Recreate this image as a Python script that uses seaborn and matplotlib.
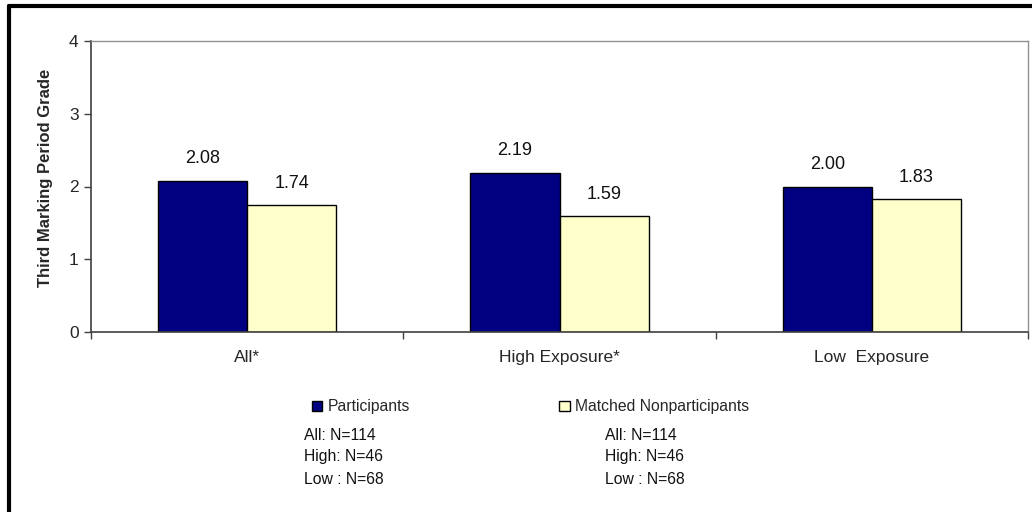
import matplotlib
matplotlib.use("Agg")
import matplotlib.pyplot as plt
from matplotlib.lines import Line2D
from matplotlib.ticker import FixedLocator
import seaborn as sns
import pandas as pd

# Chart data
groups = ["All*", "High Exposure*", "Low  Exposure"]
series = ["Participants", "Matched Nonparticipants"]
participants = [2.08, 2.19, 2.00]
nonparticipants = [1.74, 1.59, 1.83]
n_lines_left = ["All: N=114", "High: N=46", "Low : N=68"]
n_lines_right = ["All: N=114", "High: N=46", "Low : N=68"]
colors = ["#000080", "#FFFFCC"]

df = pd.DataFrame({
    "group": groups * 2,
    "series": [series[0]] * 3 + [series[1]] * 3,
    "grade": participants + nonparticipants,
})

sns.set_theme(style="white")
plt.rcParams["font.family"] = ["Liberation Sans", "DejaVu Sans"]

fig = plt.figure(figsize=(10.32, 5.12), dpi=100)
ax = fig.add_axes([91 / 1032, 1 - 332 / 512, (1028 - 91) / 1032, (332 - 41) / 512])

sns.barplot(data=df, x="group", y="grade", hue="series", hue_order=series,
            order=groups, palette=colors, width=0.57, gap=0,
            edgecolor="black", linewidth=1, saturation=1, ax=ax)

for cont in ax.containers:
    ax.bar_label(cont, fmt="%.2f", padding=9.5, fontsize=13, color="#111111")

ax.set_ylim(0, 4)
ax.set_xlim(-0.5, 2.5)
ax.set_yticks([0, 1, 2, 3, 4])
ax.set_xlabel("")
ax.set_ylabel("Third Marking Period Grade", fontsize=12, fontweight="bold")
ax.yaxis.set_label_coords(-0.0406, 0.53)
ax.tick_params(axis="y", which="major", direction="out", length=5, width=1,
               color="#404040", labelsize=12.5, left=True, pad=4)
ax.tick_params(axis="x", which="major", length=0, labelsize=12.5, pad=13)
ax.xaxis.set_minor_locator(FixedLocator([-0.5, 0.5, 1.5, 2.5]))
ax.tick_params(axis="x", which="minor", direction="out", length=5, width=1,
               color="#404040", bottom=True)

for side in ["left", "bottom"]:
    ax.spines[side].set_color("#404040")
    ax.spines[side].set_linewidth(1.2)
for side in ["top", "right"]:
    ax.spines[side].set_visible(True)
    ax.spines[side].set_color("#909090")
    ax.spines[side].set_linewidth(1)

handles, labels = ax.get_legend_handles_labels()
ax.get_legend().remove()
fig.legend(handles, labels, ncol=2, frameon=False, fontsize=11.3,
           loc="center left", bbox_to_anchor=(312 / 1032, 1 - 407 / 512),
           handlelength=0.64, handleheight=0.64, handletextpad=0.38,
           columnspacing=9.5, borderaxespad=0, borderpad=0)

for i, (a, b) in enumerate(zip(n_lines_left, n_lines_right)):
    y = 1 - (435 + 22 * i) / 512
    fig.text(304 / 1032, y, a, fontsize=11.3, va="center", ha="left", color="#111111")
    fig.text(605 / 1032, y, b, fontsize=11.3, va="center", ha="left", color="#111111")

# Heavy frame along the left and top edges of the figure
fig.add_artist(Line2D([8.5 / 1032, 8.5 / 1032], [-0.05, 1 - 5.5 / 512],
                      transform=fig.transFigure, color="black", linewidth=3))
fig.add_artist(Line2D([8.5 / 1032, 1.05], [1 - 5.5 / 512, 1 - 5.5 / 512],
                      transform=fig.transFigure, color="black", linewidth=3))

fig.savefig("out.png", dpi=100)
